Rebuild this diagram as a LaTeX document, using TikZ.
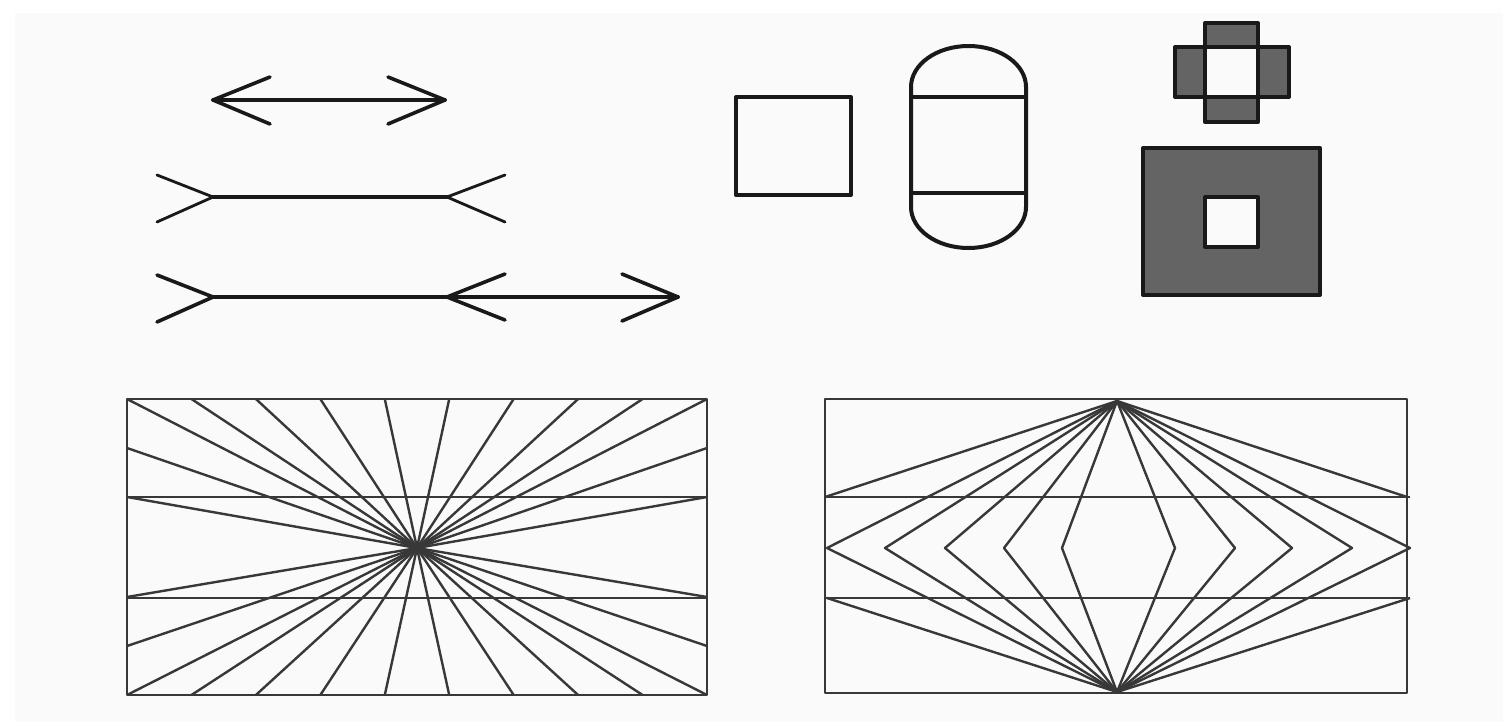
\documentclass[tikz,border=0pt]{standalone}
\definecolor{bgc}{HTML}{FAFAFA}
\definecolor{lnc}{HTML}{383838}
\definecolor{fillg}{RGB}{100,100,100}
\begin{document}
\begin{tikzpicture}[x=1pt,y=-1pt,line join=round,
  arr/.style={line width=3.6pt,line cap=round,black!90},
  fin/.style={line width=2.8pt,line cap=round,black!90},
  shp/.style={line width=4pt,black!90},
  fig/.style={line width=2.4pt,lnc}]
\useasboundingbox (0,0) rectangle (1503,722);
\fill[white] (0,0) rectangle (1503,722);
\fill[bgc] (15,13) rectangle (1503,722);

% --- Mueller-Lyer style arrows ---
\draw[arr] (213,100) -- (445,100);
\draw[arr] (270,77) -- (213,100) -- (270,124);
\draw[arr] (388,77) -- (445,100) -- (388,124);

\draw[arr] (213,197) -- (447,197);
\draw[fin] (157,175) -- (213,197) -- (157,222);
\draw[fin] (505,175) -- (447,197) -- (505,222);

\draw[arr] (213,297) -- (678,297);
\draw[arr] (157,275) -- (213,297) -- (157,322);
\draw[arr] (505,274) -- (447,297) -- (505,320);
\draw[arr] (622,274) -- (678,297) -- (622,321);

% --- rectangle ---
\draw[shp] (736,97) rectangle (851,195);

% --- capsule ---
\draw[shp] (911,87) -- (911,207)
  arc[start angle=180,end angle=0,x radius=57.5,y radius=41]
  -- (1026,87)
  arc[start angle=0,end angle=-180,x radius=57.5,y radius=41] -- cycle;
\draw[shp] (911,97) -- (1026,97);
\draw[shp] (911,193) -- (1026,193);

% --- cross ---
\fill[fillg] (1205,23) rectangle (1258,122);
\fill[fillg] (1175,47) rectangle (1289,97);
\fill[bgc] (1205,47) rectangle (1258,97);
\draw[shp] (1205,23) rectangle (1258,122);
\draw[shp] (1175,47) rectangle (1289,97);

% --- big square ---
\filldraw[shp,fill=fillg] (1143,148) rectangle (1320,295);
\filldraw[shp,fill=bgc] (1205,197) rectangle (1258,247);

% --- Hering figure ---
\coordinate (C) at (417,548);
\draw[fig] (127,399) rectangle (707,695);
\draw[fig] (127,497) -- (707,497);
\draw[fig] (127,598) -- (707,598);
\foreach \i in {0,...,9}{
  \pgfmathsetmacro\xx{127+\i*580/9}
  \draw[fig] (C) -- (\xx,399);
  \draw[fig] (C) -- (\xx,695);
}
\foreach \yy in {448,497,597,646}{
  \draw[fig] (C) -- (127,\yy);
  \draw[fig] (C) -- (707,\yy);
}

% --- Wundt-like figure ---
\coordinate (T) at (1117,401);
\coordinate (B) at (1117,692);
\draw[fig] (825,399) rectangle (1407,693);
\draw[fig] (825,497) -- (1410,497);
\draw[fig] (825,598) -- (1410,598);
\foreach \xx in {827,885,945,1004,1062,1175,1235,1292,1352,1410}{
  \draw[fig] (T) -- (\xx,548) -- (B);
}
\draw[fig] (825,497) -- (T) -- (1407,497);
\draw[fig] (827,598) -- (B) -- (1410,598);
\end{tikzpicture}
\end{document}
